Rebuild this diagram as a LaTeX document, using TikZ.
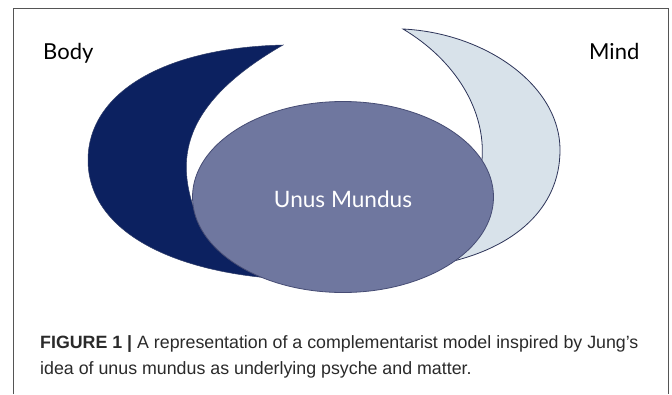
\documentclass[tikz,border=0pt]{standalone}
\usepackage{fontspec}
\setmainfont{Liberation Sans}
\newfontfamily\labelfont{Lato}
\usetikzlibrary{shapes.geometric}
\definecolor{bodyblue}{HTML}{0C2160}
\definecolor{unusfill}{HTML}{6F779F}
\definecolor{unusline}{HTML}{464C74}
\definecolor{mindfill}{HTML}{D8E2EA}
\definecolor{mindline}{HTML}{2C3358}
\definecolor{framegray}{HTML}{555555}
\definecolor{captext}{HTML}{2A2A2A}
\tikzset{
  lbl/.style={font=\labelfont\fontsize{22}{24}\selectfont, text=black, inner sep=0pt, anchor=base west},
  captionline/.style={font=\fontsize{17.8}{20}\selectfont, text=captext, inner sep=0pt, anchor=base west},
}
\begin{document}
\begin{tikzpicture}[x=1pt,y=-1pt]
\useasboundingbox (0,0) rectangle (672,394);
\fill[white] (0,0) rectangle (672,394);
% frame
\draw[framegray, line width=0.9pt] (13,394) -- (13,8) -- (668,8) -- (668,394);
% body crescent
\fill[bodyblue, draw=bodyblue!70!gray, line width=0.5pt]
  (283,45) .. controls (160,48) and (88,95) .. (88,160)
  .. controls (88,230) and (170,272) .. (282,279)
  -- (300,240) -- (196,215)
  .. controls (180,170) and (170,110) .. (283,45) -- cycle;
% mind crescent
\fill[mindfill, draw=mindline, line width=0.8pt]
  (403,29) .. controls (485,33) and (560,85) .. (560,150)
  .. controls (560,208) and (515,248) .. (445,263)
  -- (430,200) -- (482,160)
  .. controls (486,110) and (455,60) .. (403,29) -- cycle;
% unus mundus
\node[ellipse, minimum width=301pt, minimum height=191pt, fill=unusfill, draw=unusline, line width=0.8pt, inner sep=0pt] (unus) at (343,197) {};
\node[font=\labelfont\fontsize{22.6}{24}\selectfont, text=white, inner sep=0pt, anchor=base] (unustext) at (343,207) {Unus Mundus};
% labels
\node[lbl] (body) at (43,59) {Body};
\node[lbl] (mind) at (589,59) {Mind};
% caption
\node[captionline] (cap1) at (40,348) {\textbf{FIGURE 1 |} A representation of a complementarist model inspired by Jung’s};
\node[captionline] (cap2) at (40,374) {idea of unus mundus as underlying psyche and matter.};
\end{tikzpicture}
\end{document}
